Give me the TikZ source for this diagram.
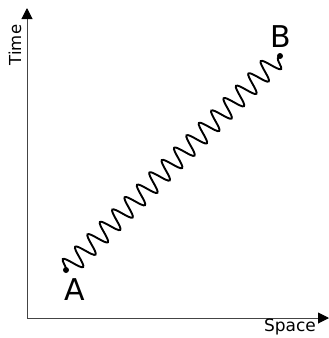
\documentclass[tikz,border=0pt]{standalone}
\usepackage{fontspec}
\setmainfont{DejaVu Sans}
\usetikzlibrary{arrows.meta, decorations.pathmorphing}
\definecolor{axisgrey}{HTML}{444444}
\definecolor{inkblack}{HTML}{000000}

\begin{document}
\begin{tikzpicture}[x=1pt,y=-1pt,
    axisline/.style={axisgrey,line width=1pt,
      -{Triangle[length=11pt,width=11pt,color=inkblack]}},
    wavy/.style={inkblack,line width=1.9pt,decorate,
      decoration={snake,amplitude=10pt,segment length=17.5pt}},
    eventdot/.style={circle,fill=inkblack,inner sep=0pt,minimum size=6pt}]
  \useasboundingbox (0,0) rectangle (329,338);
  % Axes (image coordinates, y pointing down)
  \coordinate (origin) at (27,318);
  \coordinate (ytip) at (27,8);
  \coordinate (xtip) at (329,318);
  \draw[axisline] (origin) -- (ytip);
  \draw[axisline] (origin) -- (xtip);
  \node[rotate=90,font=\fontsize{16.5}{16.5}\selectfont] (timelbl) at (15,45) {Time};
  \node[font=\fontsize{17}{17}\selectfont] (spacelbl) at (290,327) {Space};
  % Events and world line
  \node[eventdot] (evA) at (66,270) {};
  \node[eventdot] (evB) at (280,56) {};
  \node[font=\fontsize{30}{30}\selectfont] (lblA) at (75,290) {A};
  \node[font=\fontsize{30}{30}\selectfont] (lblB) at (281,37) {B};
  \draw[wavy] (evA.center) -- (evB.center);
\end{tikzpicture}
\end{document}
